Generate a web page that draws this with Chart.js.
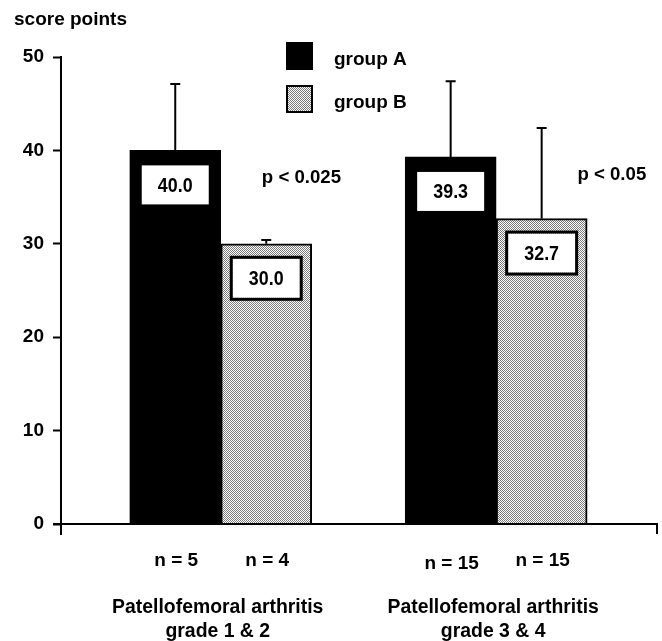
<!DOCTYPE html>
<html>
<head>
<meta charset="utf-8">
<script src="https://cdn.jsdelivr.net/npm/chart.js@4.4.1/dist/chart.umd.min.js"></script>
<style>
  html, body { margin: 0; padding: 0; background: #fff; }
  #wrap { width: 662px; height: 641px; }
</style>
</head>
<body>
<div id="wrap"><canvas id="scoreChart" width="662" height="641"></canvas></div>
<script>
// data
const categories = [["Patellofemoral arthritis", "grade 1 & 2"], ["Patellofemoral arthritis", "grade 3 & 4"]];
const groupA = [40.0, 39.3];
const groupB = [30.0, 32.7];
const errA = [7.1, 8.1];
const errB = [0.4, 9.7];
const nA = ["n = 5", "n = 15"];
const nB = ["n = 4", "n = 15"];
const pValues = ["p < 0.025", "p < 0.05"];
const yTicks = [0, 10, 20, 30, 40, 50];

const FONT = "'Liberation Sans', Arial, sans-serif";

// dotted grey fill like the printed figure
function makeDots() {
  const c = document.createElement("canvas");
  c.width = 2; c.height = 2;
  const g = c.getContext("2d");
  g.fillStyle = "#ffffff";
  g.fillRect(0, 0, 2, 2);
  g.fillStyle = "#7a7a7a";
  g.fillRect(0, 0, 1, 1);
  g.fillRect(1, 1, 1, 1);
  return g.createPattern(c, "repeat");
}

// squeezed text, the figure uses a condensed face
function narrowText(c, text, x, y, sx) {
  c.save();
  c.translate(x, y);
  c.scale(sx, 1);
  c.fillText(text, 0, 0);
  c.restore();
}

const ctx = document.getElementById("scoreChart").getContext("2d");
const dots = makeDots();

const extras = {
  id: "extras",
  afterDatasetsDraw(chart) {
    const c = chart.ctx;
    const x = chart.scales.x;
    const y = chart.scales.y;
    const area = chart.chartArea;
    const errs = [errA, errB];
    const nLabels = [nA, nB];

    c.save();
    c.strokeStyle = "#000";
    c.fillStyle = "#000";

    // axis line + small end ticks
    c.lineWidth = 2;
    c.beginPath();
    c.moveTo(area.left - 8, area.bottom);
    c.lineTo(area.right, area.bottom);
    c.lineTo(area.right, area.bottom + 10);
    c.moveTo(area.left, area.bottom);
    c.lineTo(area.left, area.bottom + 11);
    c.stroke();

    chart.data.datasets.forEach((ds, di) => {
      const meta = chart.getDatasetMeta(di);
      meta.data.forEach((bar, i) => {
        const v = ds.data[i].y;
        // error bar
        const top = y.getPixelForValue(v + errs[di][i]);
        c.lineWidth = 2;
        c.beginPath();
        c.moveTo(bar.x, bar.y);
        c.lineTo(bar.x, top);
        c.moveTo(bar.x - 5, top);
        c.lineTo(bar.x + 5, top);
        c.stroke();

        // value box
        const bw = 67, bh = 39;
        const bx = bar.x - bw / 2, by = bar.y + 15;
        c.fillStyle = "#fff";
        c.fillRect(bx, by, bw, bh);
        if (di === 1) {
          c.lineWidth = 3;
          c.strokeRect(bx - 1.5, by - 1.5, bw + 3, bh + 3);
        }
        c.fillStyle = "#000";
        c.font = "bold 21px " + FONT;
        c.textAlign = "center";
        c.textBaseline = "middle";
        narrowText(c, v.toFixed(1), bar.x, by + bh / 2 + 1, 0.85);

        // n labels under the bars
        c.font = "bold 19px " + FONT;
        const ny = (di === 0 && i === 1) ? 564 : 561;
        narrowText(c, nLabels[di][i], bar.x + 1, ny, 1);
      });
    });

    // category labels
    c.font = "bold 20px " + FONT;
    categories.forEach((lines, i) => {
      const cx = x.getPixelForValue(i) - 3;
      lines.forEach((t, k) => narrowText(c, t, cx, 607 + k * 24, 0.97));
    });

    // p values
    c.font = "bold 19px " + FONT;
    narrowText(c, pValues[0], x.getPixelForValue(0.293), y.getPixelForValue(37.06), 0.98);
    narrowText(c, pValues[1], x.getPixelForValue(1.42), y.getPixelForValue(37.4), 0.98);

    // legend
    chart.data.datasets.forEach((ds, di) => {
      const ly = 43 + di * 43;
      c.fillStyle = ds.backgroundColor;
      c.fillRect(287, ly, 25, 26);
      c.lineWidth = 2;
      c.strokeRect(287, ly, 25, 26);
      c.fillStyle = "#000";
      c.textAlign = "left";
      narrowText(c, ds.label, 334, ly + 17, 1);
    });

    // y axis title
    c.textAlign = "left";
    narrowText(c, "score points", 14, 20, 1);
    c.restore();
  }
};

new Chart(ctx, {
  type: "bar",
  data: {
    datasets: [
      {
        label: "group A",
        data: groupA.map((v, i) => ({ x: i, y: v })),
        backgroundColor: "#000",
        borderColor: "#000",
        borderWidth: 1,
      },
      {
        label: "group B",
        data: groupB.map((v, i) => ({ x: i, y: v })),
        backgroundColor: dots,
        borderColor: "#000",
        borderWidth: 2,
      },
    ],
  },
  options: {
    responsive: false,
    animation: false,
    barThickness: 91,
    layout: { padding: { top: 57, right: 5, bottom: 117, left: 0 } },
    plugins: { legend: { display: false }, tooltip: { enabled: false } },
    scales: {
      x: {
        type: "linear",
        min: -0.58,
        max: 1.584,
        offset: false,
        display: false,
        afterBuildTicks: (scale) => { scale.ticks = [{ value: 0 }, { value: 1 }]; },
      },
      y: {
        min: 0,
        max: 50,
        afterFit: (scale) => { scale.width = 61; },
        afterBuildTicks: (scale) => { scale.ticks = yTicks.map(v => ({ value: v })); },
        ticks: {
          color: "#000",
          padding: 9,
          font: { family: FONT, weight: "bold", size: 19 },
        },
        grid: {
          drawOnChartArea: false,
          tickLength: 8,
          tickWidth: 2,
          tickColor: "#000",
        },
        border: { display: true, color: "#000", width: 2 },
      },
    },
  },
  plugins: [extras],
});
</script>
</body>
</html>
